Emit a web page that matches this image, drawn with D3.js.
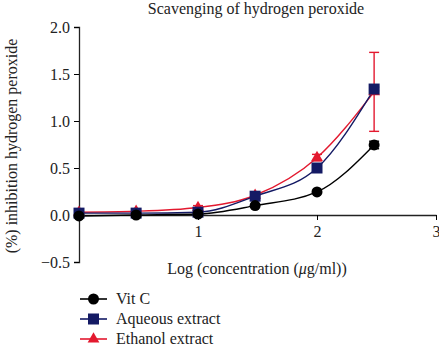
<!DOCTYPE html>
<html>
<head>
<meta charset="utf-8">
<script src="https://cdn.jsdelivr.net/npm/d3@7"></script>
<style>
  body { margin: 0; background: #fff; }
  svg text { font-family: "Liberation Serif", "DejaVu Serif", serif; fill: #222; }
</style>
</head>
<body>
<div id="chart"></div>
<script>
// log concentration
const logConc = [0, 0.48, 1, 1.48, 2, 2.48];
const vitC = [-0.01, 0.0, 0.01, 0.10, 0.245, 0.745];
const vitCErr = [0.01, 0.02, 0.02, 0.01, 0.01, 0.04];
const aqueous = [0.02, 0.02, 0.03, 0.20, 0.50, 1.34];
const aqueousErr = [0.01, 0.01, 0.01, 0.01, 0.02, 0.02];
const ethanol = [0.03, 0.04, 0.08, 0.21, 0.61, 1.31];
const ethanolErr = [0.01, 0.01, 0.02, 0.01, 0.035, 0.42];
const yTicks = [-0.5, 0, 0.5, 1, 1.5, 2];
const xTicks = [1, 2, 3];

const series = [
    { name: "Ethanol extract", values: ethanol, err: ethanolErr, color: "#e3192f", shape: "triangle" },
    { name: "Aqueous extract", values: aqueous, err: aqueousErr, color: "#141a64", shape: "square" },
    { name: "Vit C", values: vitC, err: vitCErr, color: "#000000", shape: "circle" }
];

const width = 439, height = 348;
const svg = d3.select("#chart").append("svg")
    .attr("width", width)
    .attr("height", height);

const x = d3.scaleLinear().domain([0, 3]).range([79, 436]);
const y = d3.scaleLinear().domain([-0.5, 2]).range([262, 27]);

// axes
svg.append("g")
    .attr("transform", `translate(${x(0)},0)`)
    .call(d3.axisLeft(y).tickValues(yTicks).tickFormat(d => d3.format(".1f")(d).replace("-", "\u2212")).tickSize(5).tickPadding(4))
    .call(g => g.selectAll("text").style("font-size", "16px").style("font-family", "Liberation Serif"))
    .call(g => g.select(".domain").attr("stroke", "#222").attr("stroke-width", 1.3));

svg.append("g")
    .attr("transform", `translate(0,${y(0)})`)
    .call(d3.axisBottom(x).tickValues(xTicks).tickFormat(d3.format("d")).tickSize(5).tickPadding(6).tickSizeOuter(0))
    .call(g => g.selectAll("text").style("font-size", "16px").style("font-family", "Liberation Serif"))
    .call(g => g.select(".domain").attr("stroke", "#222").attr("stroke-width", 1.3));

// curves
const line = d3.line()
    .x((d, i) => x(logConc[i]))
    .y(d => y(d))
    .curve(d3.curveMonotoneX);

series.forEach(s => {
    svg.append("path")
        .attr("d", line(s.values))
        .attr("fill", "none")
        .attr("stroke", s.color)
        .attr("stroke-width", 1.4);
});

function marker(g, shape, color) {
    if (shape === "circle") {
        g.append("circle").attr("r", 5.5).attr("fill", color);
    } else if (shape === "square") {
        g.append("rect").attr("x", -5.5).attr("y", -5.5).attr("width", 11).attr("height", 11).attr("fill", color);
    } else {
        g.append("path").attr("d", d3.symbol(d3.symbolTriangle, 60)()).attr("fill", color);
    }
}

// error bars + markers
series.forEach(s => {
    s.values.forEach((v, i) => {
        const cx = x(logConc[i]);
        const e = s.err[i];
        const eb = svg.append("g").attr("stroke", s.color).attr("stroke-width", 1.4);
        eb.append("line").attr("x1", cx).attr("x2", cx).attr("y1", y(v - e)).attr("y2", y(v + e));
        eb.append("line").attr("x1", cx - 5).attr("x2", cx + 5).attr("y1", y(v + e)).attr("y2", y(v + e));
        eb.append("line").attr("x1", cx - 5).attr("x2", cx + 5).attr("y1", y(v - e)).attr("y2", y(v - e));
        const g = svg.append("g").attr("transform", `translate(${cx},${y(v)})`);
        marker(g, s.shape, s.color);
    });
});

// titles
svg.append("text")
    .attr("x", 256)
    .attr("y", 14)
    .attr("text-anchor", "middle")
    .style("font-size", "16px")
    .text("Scavenging of hydrogen peroxide");

svg.append("text")
    .attr("transform", "translate(17,146) rotate(-90)")
    .attr("text-anchor", "middle")
    .style("font-size", "16px")
    .text("(%) inhibition hydrogen peroxide");

const xl = svg.append("text")
    .attr("x", 257)
    .attr("y", 274)
    .attr("text-anchor", "middle")
    .style("font-size", "16px");
xl.append("tspan").text("Log (concentration (");
xl.append("tspan").style("font-style", "italic").text("\u03bc");
xl.append("tspan").text("g/ml))");

// legend
const legendOrder = [series[2], series[1], series[0]];
legendOrder.forEach((s, i) => {
    const ly = 299 + i * 20;
    svg.append("line")
        .attr("x1", 80).attr("x2", 107)
        .attr("y1", ly).attr("y2", ly)
        .attr("stroke", s.color).attr("stroke-width", 1.6);
    const g = svg.append("g").attr("transform", `translate(93.5,${ly})`);
    marker(g, s.shape, s.color);
    svg.append("text")
        .attr("x", 116)
        .attr("y", ly + 5)
        .style("font-size", "16px")
        .text(s.name);
});
</script>
</body>
</html>
